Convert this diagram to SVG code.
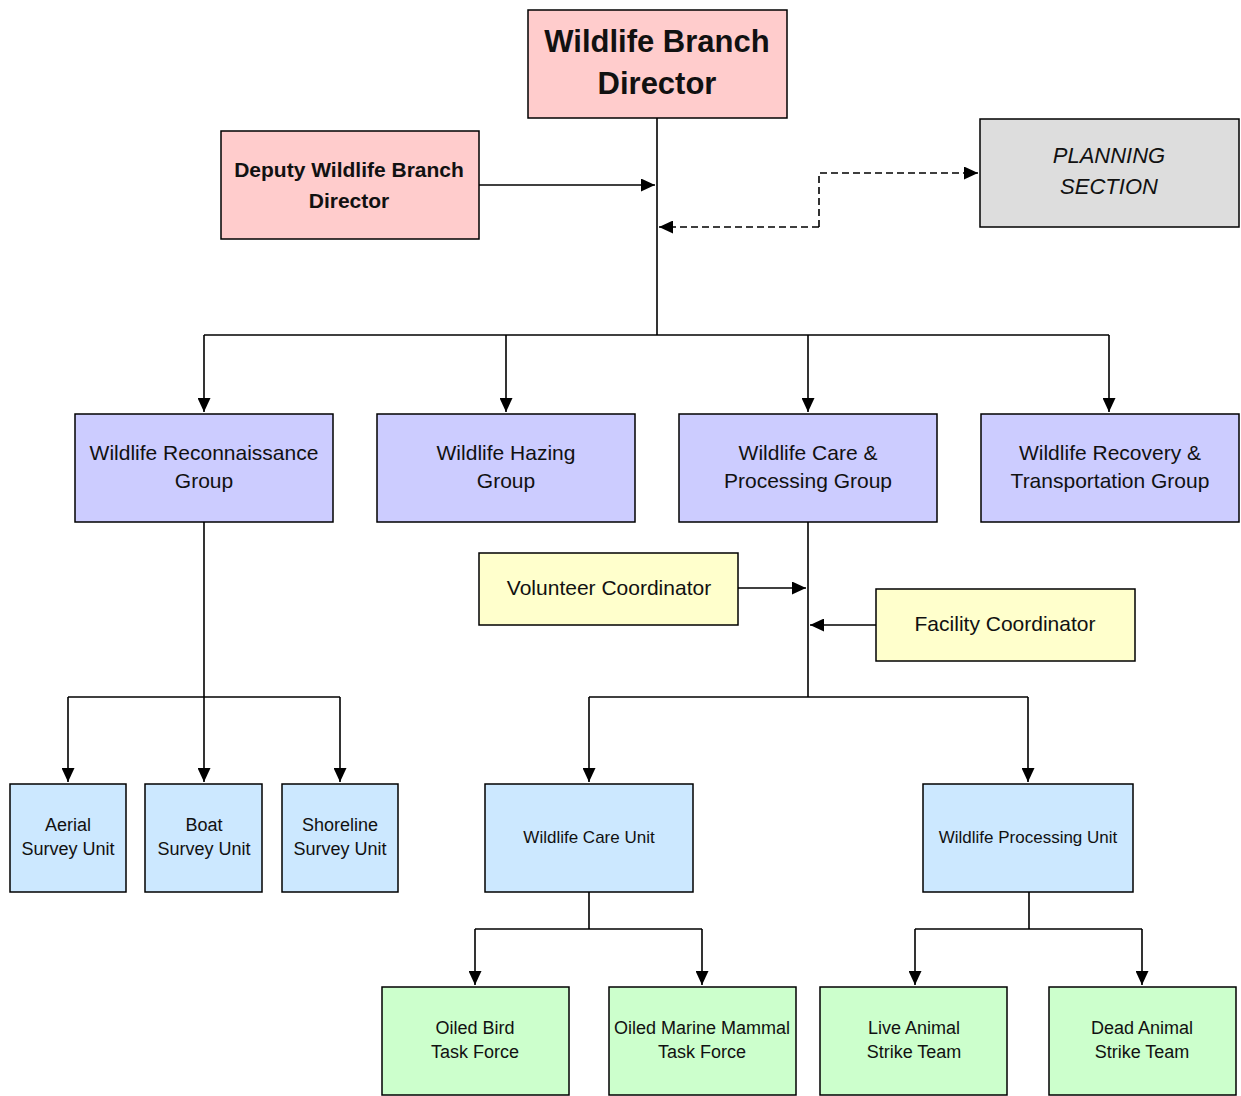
<svg xmlns="http://www.w3.org/2000/svg" width="1241" height="1096" viewBox="0 0 1241 1096">
<style>
.box{stroke:#000;stroke-width:1.5}
.red{fill:#FFCCCC}.grey{fill:#DDDDDD}.purple{fill:#CCCCFF}.blue{fill:#CCE8FF}.yellow{fill:#FFFFCC}.green{fill:#CCFFCC}
text{font-family:"Liberation Sans",Arial,sans-serif;fill:#111;text-anchor:middle}
.t1{font-size:31px;font-weight:bold}
.t2{font-size:21px;font-weight:bold}
.tp{font-size:22px;font-style:italic}
.tg{font-size:21px}
.ts{font-size:18px}
.tu{font-size:17px}
.c{fill:none;stroke:#000;stroke-width:1.6}
.d{stroke-dasharray:7,4}
</style>
<defs>
<marker id="ah" markerUnits="userSpaceOnUse" markerWidth="15" markerHeight="13" refX="14" refY="6.5" orient="auto">
<path d="M0,0 L14,6.5 L0,13 z" fill="#000"/>
</marker>
</defs>
<g id="connectors">
<path class="c" d="M657,118 V335"/>
<path class="c" d="M479,185 H655" marker-end="url(#ah)"/>
<path class="c d" d="M819,227 V173 H978" marker-end="url(#ah)"/>
<path class="c d" d="M819,227 H659" marker-end="url(#ah)"/>
<path class="c" d="M204,335 H1109"/>
<path class="c" d="M204,335 V412" marker-end="url(#ah)"/>
<path class="c" d="M506,335 V412" marker-end="url(#ah)"/>
<path class="c" d="M808,335 V412" marker-end="url(#ah)"/>
<path class="c" d="M1109,335 V412" marker-end="url(#ah)"/>
<path class="c" d="M204,522 V697"/>
<path class="c" d="M68,697 H340"/>
<path class="c" d="M68,697 V782" marker-end="url(#ah)"/>
<path class="c" d="M204,697 V782" marker-end="url(#ah)"/>
<path class="c" d="M340,697 V782" marker-end="url(#ah)"/>
<path class="c" d="M808,522 V697"/>
<path class="c" d="M738,588 H806" marker-end="url(#ah)"/>
<path class="c" d="M876,625 H810" marker-end="url(#ah)"/>
<path class="c" d="M589,697 H1028"/>
<path class="c" d="M589,697 V782" marker-end="url(#ah)"/>
<path class="c" d="M1028,697 V782" marker-end="url(#ah)"/>
<path class="c" d="M589,892 V929"/>
<path class="c" d="M475,929 H702"/>
<path class="c" d="M475,929 V985" marker-end="url(#ah)"/>
<path class="c" d="M702,929 V985" marker-end="url(#ah)"/>
<path class="c" d="M1029,892 V929"/>
<path class="c" d="M915,929 H1142"/>
<path class="c" d="M915,929 V985" marker-end="url(#ah)"/>
<path class="c" d="M1142,929 V985" marker-end="url(#ah)"/>
</g>
<g id="director"><rect class="box red" x="528" y="10" width="259" height="108"/><text class="t1" x="657" y="52">Wildlife Branch</text><text class="t1" x="657" y="94">Director</text></g>
<g id="deputy"><rect class="box red" x="221" y="131" width="258" height="108"/><text class="t2" x="349" y="177">Deputy Wildlife Branch</text><text class="t2" x="349" y="208">Director</text></g>
<g id="planning"><rect class="box grey" x="980" y="119" width="259" height="108"/><text class="tp" x="1109" y="163">PLANNING</text><text class="tp" x="1109" y="194">SECTION</text></g>
<g id="recon"><rect class="box purple" x="75" y="414" width="258" height="108"/><text class="tg" x="204" y="460">Wildlife Reconnaissance</text><text class="tg" x="204" y="488">Group</text></g>
<g id="hazing"><rect class="box purple" x="377" y="414" width="258" height="108"/><text class="tg" x="506" y="460">Wildlife Hazing</text><text class="tg" x="506" y="488">Group</text></g>
<g id="care-group"><rect class="box purple" x="679" y="414" width="258" height="108"/><text class="tg" x="808" y="460">Wildlife Care &amp;</text><text class="tg" x="808" y="488">Processing Group</text></g>
<g id="recovery"><rect class="box purple" x="981" y="414" width="258" height="108"/><text class="tg" x="1110" y="460">Wildlife Recovery &amp;</text><text class="tg" x="1110" y="488">Transportation Group</text></g>
<g id="volunteer"><rect class="box yellow" x="479" y="553" width="259" height="72"/><text class="tg" x="609" y="595">Volunteer Coordinator</text></g>
<g id="facility"><rect class="box yellow" x="876" y="589" width="259" height="72"/><text class="tg" x="1005" y="631">Facility Coordinator</text></g>
<g id="aerial"><rect class="box blue" x="10" y="784" width="116" height="108"/><text class="ts" x="68" y="831">Aerial</text><text class="ts" x="68" y="855">Survey Unit</text></g>
<g id="boat"><rect class="box blue" x="145" y="784" width="117" height="108"/><text class="ts" x="204" y="831">Boat</text><text class="ts" x="204" y="855">Survey Unit</text></g>
<g id="shoreline"><rect class="box blue" x="282" y="784" width="116" height="108"/><text class="ts" x="340" y="831">Shoreline</text><text class="ts" x="340" y="855">Survey Unit</text></g>
<g id="care-unit"><rect class="box blue" x="485" y="784" width="208" height="108"/><text class="tu" x="589" y="843">Wildlife Care Unit</text></g>
<g id="processing-unit"><rect class="box blue" x="923" y="784" width="210" height="108"/><text class="tu" x="1028" y="843">Wildlife Processing Unit</text></g>
<g id="oiled-bird"><rect class="box green" x="382" y="987" width="187" height="108"/><text class="ts" x="475" y="1034">Oiled Bird</text><text class="ts" x="475" y="1058">Task Force</text></g>
<g id="oiled-mammal"><rect class="box green" x="609" y="987" width="187" height="108"/><text class="ts" x="702" y="1034">Oiled Marine Mammal</text><text class="ts" x="702" y="1058">Task Force</text></g>
<g id="live-animal"><rect class="box green" x="820" y="987" width="187" height="108"/><text class="ts" x="914" y="1034">Live Animal</text><text class="ts" x="914" y="1058">Strike Team</text></g>
<g id="dead-animal"><rect class="box green" x="1049" y="987" width="187" height="108"/><text class="ts" x="1142" y="1034">Dead Animal</text><text class="ts" x="1142" y="1058">Strike Team</text></g>
</svg>
